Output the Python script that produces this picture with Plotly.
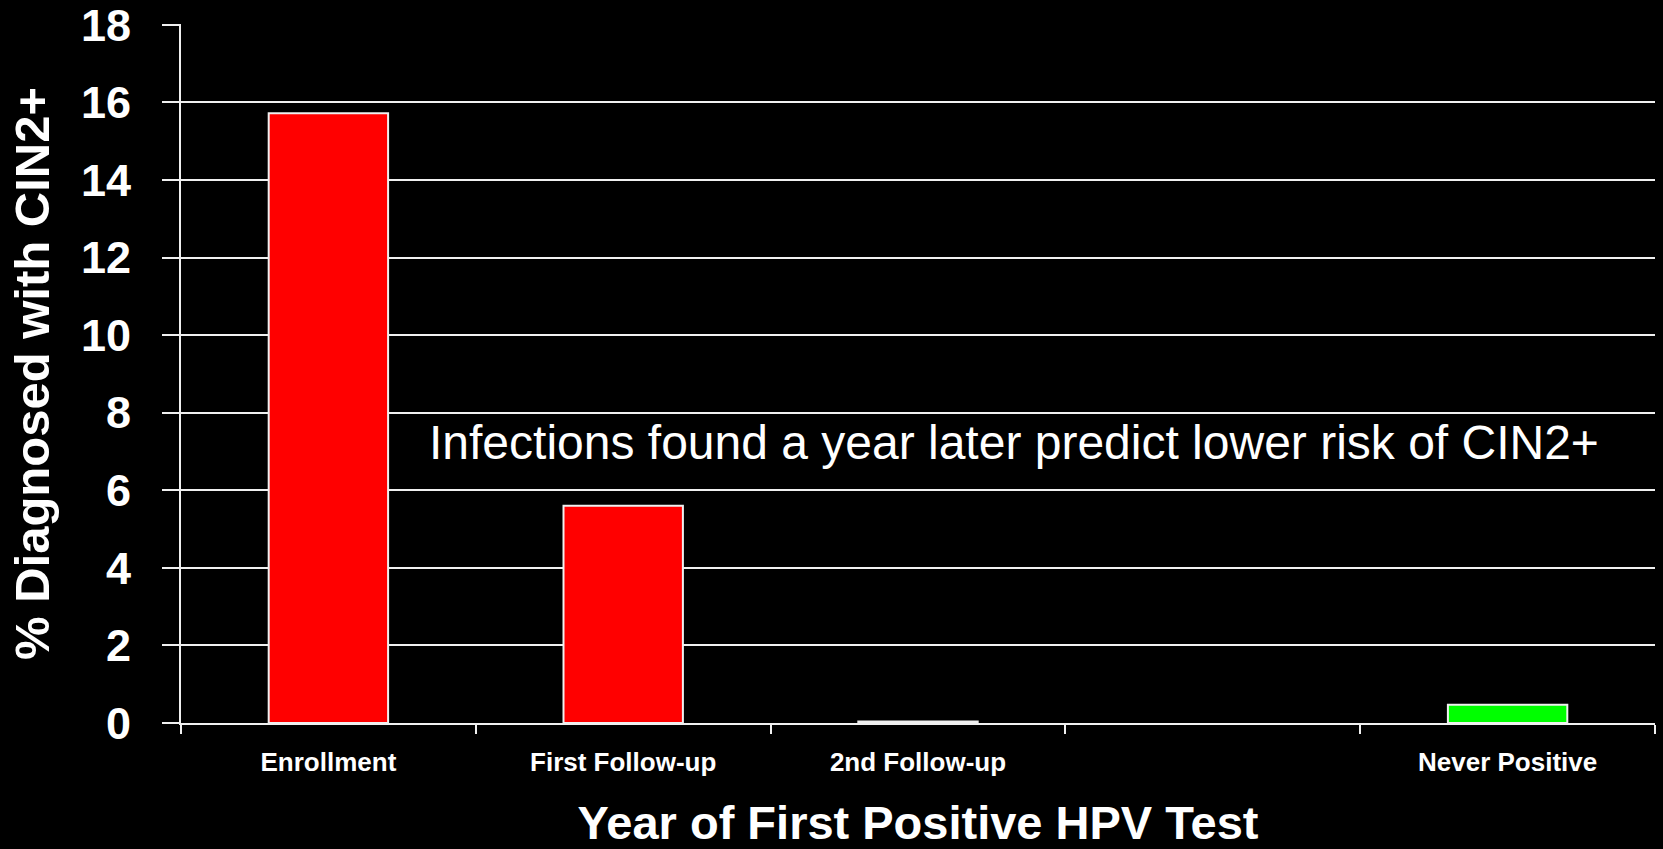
import plotly.graph_objects as go

categories = ["Enrollment", "First Follow-up", "2nd Follow-up", " ", "Never Positive"]
values = [15.72, 5.6, 0.04, None, 0.47]
bar_colors = ["#FF0000", "#FF0000", "#FF0000", "#FF0000", "#00FF00"]
y_ticks = [0, 2, 4, 6, 8, 10, 12, 14, 16, 18]

FONT = "Liberation Sans, Arial, sans-serif"
W = "#FFFFFF"

fig = go.Figure(
    go.Bar(
        x=categories,
        y=values,
        width=0.405,
        marker=dict(color=bar_colors, line=dict(color="#F0F0F0", width=2)),
    )
)

fig.update_layout(
    width=1663,
    height=849,
    paper_bgcolor="#000000",
    plot_bgcolor="#000000",
    margin=dict(l=181, r=8, t=24, b=126),
    showlegend=False,
    font=dict(family=FONT, color=W),
    bargap=0.6,
)

fig.update_xaxes(
    type="category",
    categoryorder="array",
    categoryarray=categories,
    range=[-0.5, 4.5],
    tickson="boundaries",
    ticks="outside",
    ticklen=9,
    tickwidth=2,
    tickcolor="#F0F0F0",
    showline=True,
    linecolor="#F0F0F0",
    linewidth=2,
    showgrid=False,
    tickfont=dict(family=FONT, size=26, color=W, weight="bold"),
    ticklabelstandoff=15,
    title=dict(
        text="<b>Year of First Positive HPV Test</b>",
        font=dict(family=FONT, size=47, color=W),
        standoff=37,
    ),
    automargin=False,
)

fig.update_yaxes(
    range=[0, 18.02],
    tickvals=y_ticks,
    ticktext=[str(v) for v in y_ticks],
    ticks="outside",
    ticklen=17,
    tickwidth=2,
    tickcolor="#F0F0F0",
    showgrid=True,
    gridcolor="#F0F0F0",
    gridwidth=2,
    showline=True,
    linecolor="#F0F0F0",
    linewidth=2,
    zeroline=False,
    tickfont=dict(family=FONT, size=45, color=W, weight="bold"),
    ticklabelstandoff=22,
    ticklabeloverflow="allow",
    title=dict(
        text="<b>% Diagnosed with CIN2+</b>",
        font=dict(family=FONT, size=49, color=W),
        standoff=16,
    ),
    automargin=False,
)

fig.add_annotation(
    text="Infections found a year later predict lower risk of CIN2+",
    xref="paper",
    yref="paper",
    x=0.565,
    y=0.402,
    xanchor="center",
    yanchor="middle",
    showarrow=False,
    font=dict(family=FONT, size=48, color=W),
)

fig.write_html("out.html")
